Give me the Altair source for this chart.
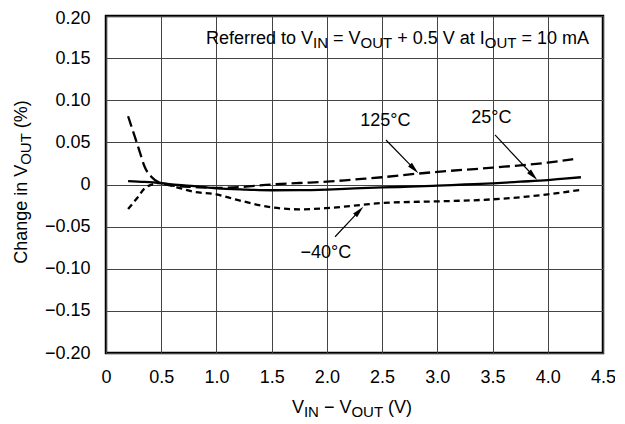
import math
import altair as alt
import pandas as pd

# ---------------- data ----------------
x_25 = [0.2, 0.35, 0.5, 0.65, 0.8, 1.0, 1.25, 1.5, 1.75, 2.0, 2.25, 2.5, 2.75, 3.0, 3.25, 3.5, 3.75, 4.0, 4.15, 4.3]
y_25 = [0.004, 0.003, 0.0015, -0.0006, -0.002, -0.0045, -0.006, -0.0068, -0.0067, -0.006, -0.0047, -0.0035, -0.0026, -0.0014, 0.0, 0.0014, 0.0033, 0.0053, 0.007, 0.0086]

x_125 = [0.2, 0.26, 0.31, 0.35, 0.41, 0.49, 0.64, 0.8, 1.0, 1.21, 1.5, 1.75, 2.0, 2.25, 2.5, 2.83, 3.0, 3.5, 4.0, 4.23]
y_125 = [0.081, 0.057, 0.037, 0.021, 0.0093, 0.002, -0.0018, -0.003, -0.004, -0.003, 0.0, 0.0018, 0.0033, 0.006, 0.0086, 0.013, 0.015, 0.020, 0.026, 0.030]

x_m40 = [0.2, 0.28, 0.35, 0.43, 0.49, 0.64, 0.79, 1.0, 1.18, 1.5, 1.75, 2.0, 2.33, 2.5, 2.84, 3.0, 3.5, 4.0, 4.29]
y_m40 = [-0.029, -0.0164, -0.0045, 0.0006, 0.002, -0.0033, -0.0085, -0.0117, -0.018, -0.027, -0.0295, -0.028, -0.024, -0.022, -0.0205, -0.020, -0.0176, -0.0117, -0.0065]

x_ticks = [0, 0.5, 1.0, 1.5, 2.0, 2.5, 3.0, 3.5, 4.0, 4.5]
y_ticks = [-0.20, -0.15, -0.10, -0.05, 0, 0.05, 0.10, 0.15, 0.20]

label_text = ["125°C", "25°C", "−40°C"]
label_x = [2.53, 3.49, 1.99]
label_y = [0.075, 0.079, -0.081]

arrow_x0 = [2.535, 3.522, 2.074]
arrow_y0 = [0.0528, 0.0588, -0.062]
arrow_x1 = [2.828, 3.905, 2.330]
arrow_y1 = [0.0133, 0.0053, -0.0263]

# ---------------- layout / style ----------------
W, H = 497, 337
OX, OY = 106, 16  # page position of plot origin
XD, YD = [0, 4.5], [-0.2, 0.2]
FONT = "Liberation Sans"
FS = 18
SUB_FS = 15
SUB_DY = 3.5
PXX = W / (XD[1] - XD[0])
PXY = H / (YD[1] - YD[0])

AW = {' ': 278, '(': 333, ')': 333, '%': 889, '.': 278, '=': 584, '+': 584, '−': 584,
      'A': 667, 'C': 722, 'I': 278, 'N': 722, 'O': 778, 'R': 722, 'T': 611, 'U': 722, 'V': 667,
      'a': 556, 'd': 556, 'e': 556, 'f': 278, 'g': 556, 'h': 556, 'i': 222, 'm': 833,
      'n': 556, 'o': 556, 'r': 333, 't': 278}


def tw(s, size):
    return sum(AW.get(c, 556) for c in s) / 1000.0 * size


one = pd.DataFrame({"a": [0]})


def rich(pieces, cx, cy, rotated=False):
    total = sum(tw(t, SUB_FS if s else FS) for t, s in pieces)
    pos = -total / 2.0
    layers = []
    for t, s in pieces:
        size = SUB_FS if s else FS
        lead = len(t) - len(t.lstrip(" "))
        p = pos + tw(" " * lead, size)
        txt = t.strip(" ")
        if rotated:
            px = cx + (SUB_DY if s else 0)
            py = cy - p
        else:
            px = cx + p
            py = cy + (SUB_DY if s else 0)
        layers.append(
            alt.Chart(one).mark_text(
                text=txt, font=FONT, fontSize=size, align="left", baseline="alphabetic",
                angle=270 if rotated else 0, color="black"
            ).encode(x=alt.value(px - OX), y=alt.value(py - OY))
        )
        pos += tw(t, size)
    return layers


xs = alt.Scale(domain=XD, nice=False, zero=False)
ys = alt.Scale(domain=YD, nice=False, zero=False)

x_axis = alt.Axis(values=x_ticks, title=None, grid=True, gridColor="#444", gridWidth=1,
                  domain=False, ticks=False, tickSize=0, labelFont=FONT, labelFontSize=FS,
                  labelColor="black", labelPadding=15, labelFlush=False,
                  labelExpr="datum.value == 0 ? '0' : format(datum.value, '.1f')")
y_axis = alt.Axis(values=y_ticks, title=None, grid=True, gridColor="#444", gridWidth=1,
                  domain=False, ticks=False, tickSize=0, labelFont=FONT, labelFontSize=FS,
                  labelColor="black", labelPadding=16, labelFlush=False,
                  labelOffset={"condition": {"test": "datum.value > 0.19", "value": 2}, "value": 0},
                  labelExpr="datum.value == 0 ? '0' : format(datum.value, '.2f')")


def curve(xv, yv, dash):
    df = pd.DataFrame({"x": xv, "y": yv})
    kw = dict(color="black", strokeWidth=2.3, interpolate="monotone")
    if dash:
        kw["strokeDash"] = dash
    return alt.Chart(df).mark_line(**kw).encode(
        x=alt.X("x:Q", scale=xs, axis=x_axis),
        y=alt.Y("y:Q", scale=ys, axis=y_axis),
    )


c25 = curve(x_25, y_25, None)
c125 = curve(x_125, y_125, [11, 5])
cm40 = curve(x_m40, y_m40, [6, 4])

# arrows
HEAD = 12.0
rows = []
for x0, y0, x1, y1 in zip(arrow_x0, arrow_y0, arrow_x1, arrow_y1):
    dx = (x1 - x0) * PXX
    dy = -(y1 - y0) * PXY
    L = math.hypot(dx, dy)
    ux, uy = dx / L, dy / L
    ang = math.degrees(math.atan2(dx, -dy)) % 360
    hx = x1 - ux * HEAD / 2 / PXX
    hy = y1 + uy * HEAD / 2 / PXY
    bx = x1 - ux * (HEAD - 1) / PXX
    by = y1 + uy * (HEAD - 1) / PXY
    rows.append({"x0": x0, "y0": y0, "bx": bx, "by": by, "hx": hx, "hy": hy, "ang": ang})
adf = pd.DataFrame(rows)

shafts = alt.Chart(adf).mark_rule(color="black", strokeWidth=1.2).encode(
    x=alt.X("x0:Q", scale=xs), y=alt.Y("y0:Q", scale=ys), x2="bx:Q", y2="by:Q")
heads = alt.Chart(adf).mark_point(
    shape="M0,-1L0.45,1L-0.45,1Z", filled=True, size=HEAD * HEAD, color="black", opacity=1,
    strokeWidth=0).encode(
    x=alt.X("hx:Q", scale=xs), y=alt.Y("hy:Q", scale=ys), angle=alt.Angle("ang:Q", scale=None))

ldf = pd.DataFrame({"x": label_x, "y": label_y, "t": label_text})
labels = alt.Chart(ldf).mark_text(font=FONT, fontSize=FS, color="black", align="center",
                                  baseline="middle").encode(
    x=alt.X("x:Q", scale=xs), y=alt.Y("y:Q", scale=ys), text="t:N")

note = rich([("Referred to V", 0), ("IN", 1), (" = V", 0), ("OUT", 1),
             (" + 0.5 V at I", 0), ("OUT", 1), (" = 10 mA", 0)], 397.5, 44)
xtitle = rich([("V", 0), ("IN", 1), (" − V", 0), ("OUT", 1), (" (V)", 0)], 352, 413)
ytitle = rich([("Change in V", 0), ("OUT", 1), (" (%)", 0)], 27, 182, rotated=True)

chart = alt.layer(c25, c125, cm40, shafts, heads, labels, *note, *xtitle, *ytitle).properties(
    width=W, height=H,
    autosize=alt.AutoSizeParams(type="none"),
    padding={"left": OX - 8, "top": OY - 8, "right": 12, "bottom": 68},
).configure_view(stroke="black", strokeWidth=2.5)

chart.save("out.html", embed_options={"renderer": "svg", "actions": False})
